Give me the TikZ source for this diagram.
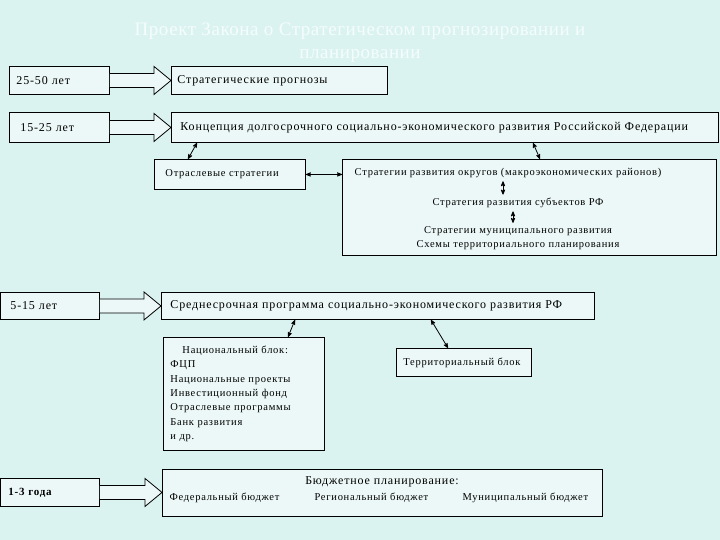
\documentclass[tikz,border=0pt]{standalone}
\usepackage{fontspec}
\setmainfont{Liberation Serif}[LetterSpace=7]
\newfontfamily\titlefont{Liberation Serif}[LetterSpace=3]
\usetikzlibrary{arrows,calc}
\definecolor{bg}{RGB}{218,243,240}
\definecolor{boxfill}{RGB}{236,248,247}
\definecolor{titlecol}{RGB}{245,253,252}

\begin{document}
\begin{tikzpicture}[x=1pt,y=-1pt,>=stealth',
  box/.style={draw=black,line width=0.9pt,fill=boxfill,anchor=north west,inner ysep=0pt,align=left,font=\fontsize{12}{14}\selectfont},
  small/.style={font=\fontsize{10.5}{12}\selectfont},
  bigarrow/.style={draw=black,line width=0.8pt,fill=boxfill},
  link/.style={<->,thick}]

  \fill[bg] (0,0) rectangle (720,540);

  \node[align=center,text=titlecol,font=\titlefont\fontsize{19}{23}\selectfont] (0) at (360,43) {Проект Закона о Стратегическом прогнозировании и\\планировании};

  \node[box,text width=86pt,inner xsep=7pt,minimum height=28pt] (1) at (9,66) {25-50 лет};
  \node[box,text width=204pt,inner xsep=6pt,minimum height=28pt] (2) at (171,66) {Стратегические прогнозы};
  \node[box,text width=78pt,inner xsep=11pt,minimum height=30pt] (3) at (9,112) {15-25 лет};
  \node[box,text width=529pt,inner xsep=9pt,minimum height=30pt] (4) at (171,112) {Концепция долгосрочного социально-экономического развития Российской Федерации};

  \node[box,small,text width=129pt,inner xsep=11pt,minimum height=30pt] (5) at (154,159) {Отраслевые стратегии};
  \node[box,minimum width=374pt,minimum height=96pt] (6) at (342,159) {};
  \node[small] (61) at (508,173) {Стратегии развития округов (макроэкономических районов)};
  \node[small] (62) at (518,203) {Стратегия развития субъектов РФ};
  \node[small,align=center,font=\fontsize{10.5}{14}\selectfont] (63) at (518,238) {Стратегии муниципального развития\\Схемы территориального планирования};

  \node[box,text width=79pt,inner xsep=10pt,minimum height=27pt] (7) at (0,292) {5-15 лет};
  \node[box,text width=415pt,inner xsep=9pt,minimum height=27pt] (8) at (161,292) {Среднесрочная программа социально-экономического развития РФ};
  \node[box,text width=147pt,inner xsep=7pt,minimum height=113pt,font=\fontsize{10.5}{14.3}\selectfont] (9) at (163,337)
    {\hspace*{12pt}Национальный блок:\\ФЦП\\Национальные проекты\\Инвестиционный фонд\\Отраслевые программы\\Банк развития\\и др.};
  \node[box,small,text width=121pt,inner xsep=7pt,minimum height=28pt] (10) at (396,348) {Территориальный блок};

  \node[box,text width=83pt,inner xsep=8pt,minimum height=28pt,font=\fontsize{11}{13}\bfseries] (11) at (0,478) {1-3 года};
  \node[box,minimum width=440pt,minimum height=47pt] (12) at (162,469) {};
  \node (121) at (382,482) {\fontsize{12}{14}\selectfont Бюджетное планирование:};
  \node[small,anchor=west] (122) at (166,498) {Федеральный бюджет};
  \node[small,anchor=west] (123) at (311,498) {Региональный бюджет};
  \node[small,anchor=west] (124) at (459,498) {Муниципальный бюджет};

  % hollow arrows from the terms to the documents
  \foreach \a/\b in {1/2,3/4,7/8,11/12}
    \draw[bigarrow] ($(\a.east)+(0,-7)$) -- ($(\b.west |- \a.east)+(-17,-7)$) -- ++(0,-7)
      -- (\b.west |- \a.east) -- ++(-17,14) -- ++(0,-7) -- ($(\a.east)+(0,7)$);

  \path[link]
  ([xshift=26pt]4.south west) edge ([xshift=34pt]5.north west)
  ([xshift=362pt]4.south west) edge ([xshift=198pt]6.north west)
  (5.east) edge (5.east -| 6.west)
  ([xshift=-5pt]61.south) edge ([xshift=-5pt]62.north -| 61.south)
  ([xshift=-5pt]62.south) edge ([xshift=-5pt]63.north)
  ([xshift=134pt]8.south west) edge ([xshift=125pt]9.north west)
  ([xshift=270pt]8.south west) edge ([xshift=52pt]10.north west)
  ;

\end{tikzpicture}
\end{document}
